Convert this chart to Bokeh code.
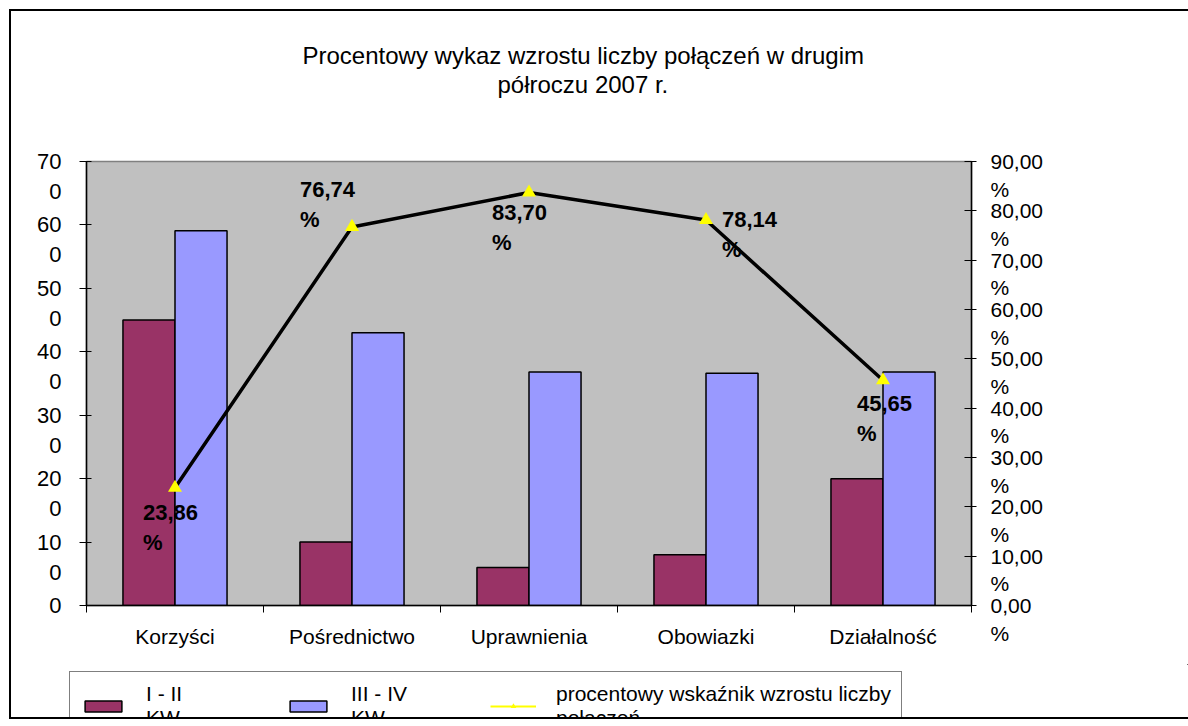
import numpy as np
from bokeh.plotting import figure
from bokeh.layouts import column
from bokeh.models import (Range1d, LinearAxis, FixedTicker, ColumnDataSource,
                          Legend, LegendItem, Title)
from bokeh.transform import dodge
from bokeh.core.properties import value
from bokeh.embed import file_html
from bokeh.resources import INLINE

# ---------------- data ----------------
categories = ["Korzyści", "Pośrednictwo", "Uprawnienia", "Obowiazki", "Działalność"]
kw_1_2 = [450, 100, 60, 80, 200]
kw_3_4 = [591, 430, 368, 366, 368]
growth_pct = [23.86, 76.74, 83.70, 78.14, 45.65]
left_ticks = [0, 100, 200, 300, 400, 500, 600, 700]
left_tick_labels = ["0", "10\n0", "20\n0", "30\n0", "40\n0", "50\n0", "60\n0", "70\n0"]
right_ticks = [0, 10, 20, 30, 40, 50, 60, 70, 80, 90]
right_tick_labels = ["0,00\n%", "10,00\n%", "20,00\n%", "30,00\n%", "40,00\n%",
                     "50,00\n%", "60,00\n%", "70,00\n%", "80,00\n%", "90,00\n%"]
series_names = ["I - II\nKW", "III - IV\nKW", "procentowy wskaźnik wzrostu liczby\npołączeń"]
title_line_1 = "Procentowy wykaz wzrostu liczby połączeń w drugim"
title_line_2 = "półroczu 2007 r."

# ---------------- styling ----------------
FONT = "Liberation Sans"
C_12 = "#993366"
C_34 = "#9999FF"
BG = "#C0C0C0"
YEL = "#FFFF00"
bar_w = 0.294
label_dx = [-32, -52, -37, 16, -26]
label_dy = [12, -50, 7, -13, 11]

n = len(categories)
xc = np.arange(n) + 0.5
src = ColumnDataSource(dict(
    x=xc, a=kw_1_2, b=kw_3_4, p=growth_pct,
    lbl=[f"{v:.2f}".replace(".", ",") + "\n%" for v in growth_pct],
    dx=label_dx, dy=label_dy,
))

W = 1177
p = figure(width=W, height=653, output_backend="svg", toolbar_location=None,
           title=None,
           x_range=Range1d(0, n), y_range=Range1d(0, 700),
           min_border_left=75, min_border_right=217, min_border_top=150,
           min_border_bottom=59)
p.frame_align = False
xa = p.xaxis[0]
ya = p.yaxis[0]
p.extra_y_ranges = {"pct": Range1d(0, 90)}
p.background_fill_color = BG
p.border_fill_color = "white"
p.outline_line_color = "#808080"
p.outline_line_width = 1.5
p.xgrid.visible = False
p.ygrid.visible = False

# ---- top: empty spacer axis, then two centred title lines
spacer = LinearAxis(ticker=FixedTicker(ticks=[0.0]), major_label_overrides={0: ""},
                    major_tick_out=64, major_tick_in=0, major_tick_line_color=None,
                    minor_tick_line_color=None, axis_line_color=None,
                    major_label_standoff=0, major_label_text_font_size="1px")
p.add_layout(spacer, "above")
for txt, off in ((title_line_2, 411), (title_line_1, 216)):
    p.add_layout(Title(text=txt, align="left", offset=off, standoff=0,
                       text_font=FONT, text_font_size="24px",
                       text_font_style="normal", text_color="black"), "above")

# bars
r1 = p.vbar(x=dodge("x", -bar_w / 2), top="a", width=bar_w, source=src,
            fill_color=C_12, line_color="black", line_width=1.5)
r2 = p.vbar(x=dodge("x", bar_w / 2), top="b", width=bar_w, source=src,
            fill_color=C_34, line_color="black", line_width=1.5)

# line + markers + labels
p.line(x="x", y="p", source=src, y_range_name="pct", line_color="black",
       line_width=3.5)
p.scatter(x="x", y="p", source=src, y_range_name="pct", marker="triangle",
          size=14, fill_color=YEL, line_color=None)
p.text(x="x", y="p", text="lbl", source=src, y_range_name="pct",
       x_offset="dx", y_offset="dy", text_font=value(FONT),
       text_font_size="22px", text_font_style="bold", text_color="black",
       text_align="left", text_baseline="top", text_line_height=1.2)

# x axis
xa.ticker = FixedTicker(ticks=list(xc), minor_ticks=list(range(n + 1)))
xa.major_label_overrides = {float(x): c for x, c in zip(xc, categories)}
xa.major_tick_in = 0
xa.major_tick_out = 0
xa.minor_tick_in = 0
xa.minor_tick_out = 7
xa.minor_tick_line_color = "black"
xa.axis_line_color = "black"
xa.axis_line_width = 1.5
xa.major_label_standoff = 12
xa.major_label_text_font = FONT
xa.major_label_text_font_size = "21px"
xa.major_label_text_color = "black"

# left axis
ya.ticker = FixedTicker(ticks=left_ticks)
ya.major_label_overrides = {t: ("\n" + l if "\n" in l else l)
                            for t, l in zip(left_ticks, left_tick_labels)}
ya.major_tick_in = 5
ya.major_tick_out = 7
ya.minor_tick_line_color = None
ya.axis_line_color = "black"
ya.axis_line_width = 1.5
ya.major_label_standoff = 18
ya.major_label_text_font = FONT
ya.major_label_text_font_size = "22px"
ya.major_label_text_color = "black"

# right axis
ra = LinearAxis(y_range_name="pct", ticker=FixedTicker(ticks=right_ticks))
ra.major_label_overrides = {t: "\n" + l for t, l in zip(right_ticks, right_tick_labels)}
ra.major_tick_in = 7
ra.major_tick_out = 5
ra.minor_tick_line_color = None
ra.axis_line_color = "black"
ra.axis_line_width = 1.5
ra.major_label_standoff = 14
ra.major_label_text_font = FONT
ra.major_label_text_font_size = "21px"
ra.major_label_text_color = "black"
p.add_layout(ra, "right")

# ---- legend strip (separate figure below the chart; its series lie far outside its view)
q = figure(width=W, height=53, output_backend="svg", toolbar_location=None,
           title=None, x_axis_location=None, y_axis_location=None,
           x_range=Range1d(-10, -5), y_range=Range1d(-2000, -1000),
           min_border_left=0, min_border_right=0, min_border_top=0,
           min_border_bottom=0)
q.frame_align = False
q.grid.visible = False
q.outline_line_color = None
q.background_fill_color = "white"
q.border_fill_color = "white"
g1 = q.vbar(x=xc, top=kw_1_2, width=bar_w, fill_color=C_12, line_color="black",
            line_width=1.5)
g2 = q.vbar(x=xc, top=kw_3_4, width=bar_w, fill_color=C_34, line_color="black",
            line_width=1.5)
g3 = q.line(x=xc, y=growth_pct, line_color=YEL, line_width=2)
g4 = q.scatter(x=xc, y=growth_pct, marker="triangle", size=14, fill_color=YEL,
               line_color=None)
legend = Legend(items=[
    LegendItem(label=series_names[0], renderers=[g1]),
    LegendItem(label=series_names[1], renderers=[g2]),
    LegendItem(label=series_names[2], renderers=[g3, g4]),
], orientation="horizontal", location=(58, -24))
legend.label_text_font = FONT
legend.label_text_font_size = "21px"
legend.label_text_color = "black"
legend.glyph_width = 46
legend.glyph_height = 14
legend.label_standoff = 20
legend.label_width = 119
legend.spacing = 20
legend.padding = 10
legend.margin = 0
legend.border_line_color = "black"
legend.border_line_width = 1.5
legend.background_fill_color = "white"
legend.background_fill_alpha = 1
q.add_layout(legend, "center")

layout = column(p, q, spacing=0)
layout.styles = {"border-left": "2px solid black", "border-top": "2px solid black",
                 "border-bottom": "2px solid black",
                 "margin-left": "9px", "margin-top": "9px"}

open("out.html", "w").write(file_html(layout, INLINE))
